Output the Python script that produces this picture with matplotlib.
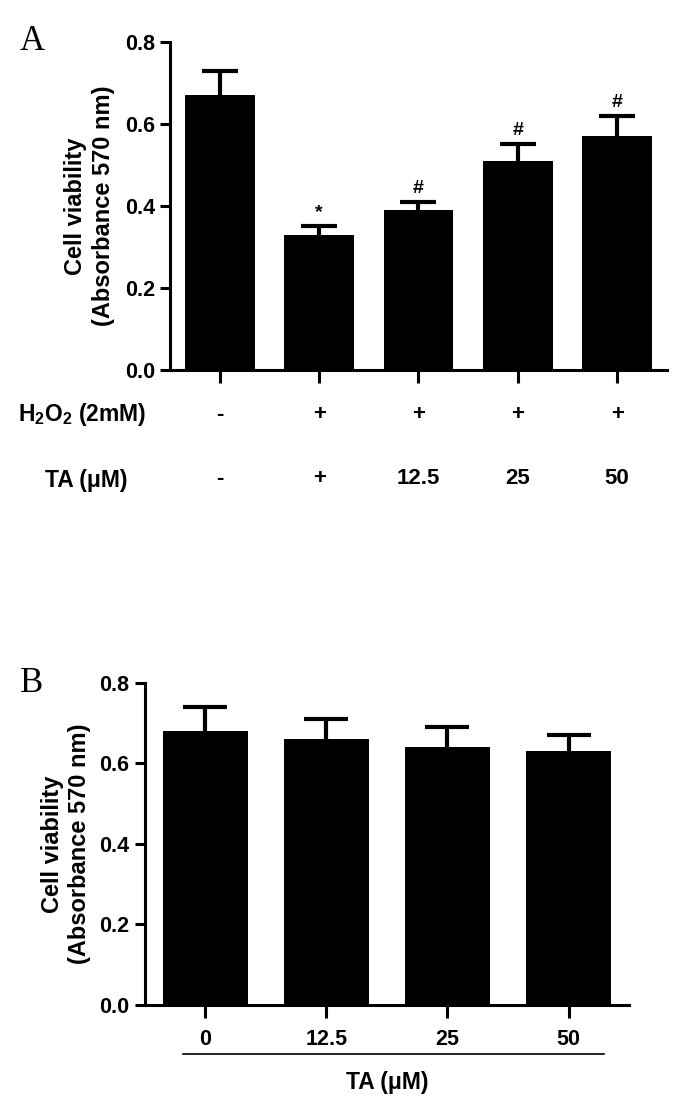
import matplotlib
matplotlib.use("Agg")
import matplotlib.pyplot as plt
import numpy as np

plt.rcParams["font.family"] = ["Liberation Sans", "DejaVu Sans"]
plt.rcParams["font.weight"] = "bold"
plt.rcParams["mathtext.fontset"] = "custom"
plt.rcParams["mathtext.rm"] = "Liberation Sans:bold"
plt.rcParams["mathtext.bf"] = "Liberation Sans:bold"

# panel A: H2O2 injury with TA pretreatment
a_means = [0.67, 0.33, 0.39, 0.51, 0.57]
a_errs = [0.06, 0.02, 0.02, 0.04, 0.05]
a_marks = ["", "*", "#", "#", "#"]
a_h2o2 = ["-", "+", "+", "+", "+"]
a_ta = ["-", "+", "12.5", "25", "50"]

# panel B: TA alone
b_labels = ["0", "12.5", "25", "50"]
b_means = [0.68, 0.66, 0.64, 0.63]
b_errs = [0.06, 0.05, 0.05, 0.04]

yticks = [0.0, 0.2, 0.4, 0.6, 0.8]
ylabel = "Cell viability\n(Absorbance 570 nm)"


def style_axis(ax, n):
    ax.set_xlim(-0.5, n - 0.5)
    ax.set_ylim(0, 0.8)
    ax.set_yticks(yticks)
    ax.set_yticklabels([f"{v:.1f}" for v in yticks])
    for s in ["top", "right"]:
        ax.spines[s].set_visible(False)
    for s in ["left", "bottom"]:
        ax.spines[s].set_linewidth(2.2)
    ax.tick_params(axis="both", width=2.2, length=7, labelsize=15.5, pad=4)
    ax.set_ylabel(ylabel, fontsize=17, fontweight="bold", linespacing=1.25)


def upper_errorbars(ax, x, means, errs, capsize):
    eb = ax.errorbar(x, means, yerr=[np.zeros(len(errs)), errs], fmt="none",
                     ecolor="black", elinewidth=3, capsize=capsize, capthick=3,
                     zorder=1)
    # drop the lower cap that would sit on the bar top
    for cap in eb[1]:
        if np.allclose(cap.get_ydata(), means):
            cap.set_visible(False)


fig = plt.figure(figsize=(6.86, 11.1), dpi=100)

# ---- A ----
axA = fig.add_axes([0.248, 0.6667, 0.724, 0.2955])
x = np.arange(len(a_means))
axA.bar(x, a_means, width=0.7, color="black", zorder=2)
upper_errorbars(axA, x, a_means, a_errs, 13)
for xi, m, e, mark in zip(x, a_means, a_errs, a_marks):
    if mark:
        axA.text(xi, m + e + 0.033, mark, ha="center", va="center",
                 fontsize=14, fontweight="bold")
style_axis(axA, len(a_means))
axA.set_xticks(x)
axA.set_xticklabels([])
axA.tick_params(axis="x", length=9)
axA.yaxis.set_label_coords(-0.112, 0.5)

tr = axA.get_xaxis_transform()
for xi, h, t in zip(x, a_h2o2, a_ta):
    axA.text(xi, -0.135, h, transform=tr, ha="center", va="center", fontsize=16)
    axA.text(xi, -0.33, t, transform=tr, ha="center", va="center", fontsize=16)
fig.text(82 / 686, 1 - 415 / 1110, r"H$_{2}$O$_{2}$ (2mM)", ha="center", va="center",
         fontsize=16.5)
fig.text(86 / 686, 1 - 481 / 1110, "TA (\u03bcM)", ha="center", va="center",
         fontsize=16.5)

fig.text(32 / 686, 1 - 41 / 1110, "A", family="Liberation Serif", fontweight="normal",
         fontsize=25, ha="center", va="center")

# ---- B ----
axB = fig.add_axes([0.211, 0.0946, 0.706, 0.2901])
xb = np.arange(len(b_means))
axB.bar(xb, b_means, width=0.7, color="black", zorder=2)
upper_errorbars(axB, xb, b_means, b_errs, 16)
style_axis(axB, len(b_means))
axB.set_xticks(xb)
axB.set_xticklabels(b_labels)
axB.tick_params(axis="x", length=9, pad=8)
axB.yaxis.set_label_coords(-0.11, 0.5)

trb = axB.get_xaxis_transform()
axB.plot([-0.186, 3.29], [-0.152, -0.152], color="black", lw=1.2,
         transform=trb, clip_on=False)
axB.text(1.5, -0.24, "TA (\u03bcM)", transform=trb, ha="center", va="center",
         fontsize=16.5)

fig.text(32 / 686, 1 - 683 / 1110, "B", family="Liberation Serif", fontweight="normal",
         fontsize=25, ha="center", va="center")

fig.savefig("out.png", dpi=100)
